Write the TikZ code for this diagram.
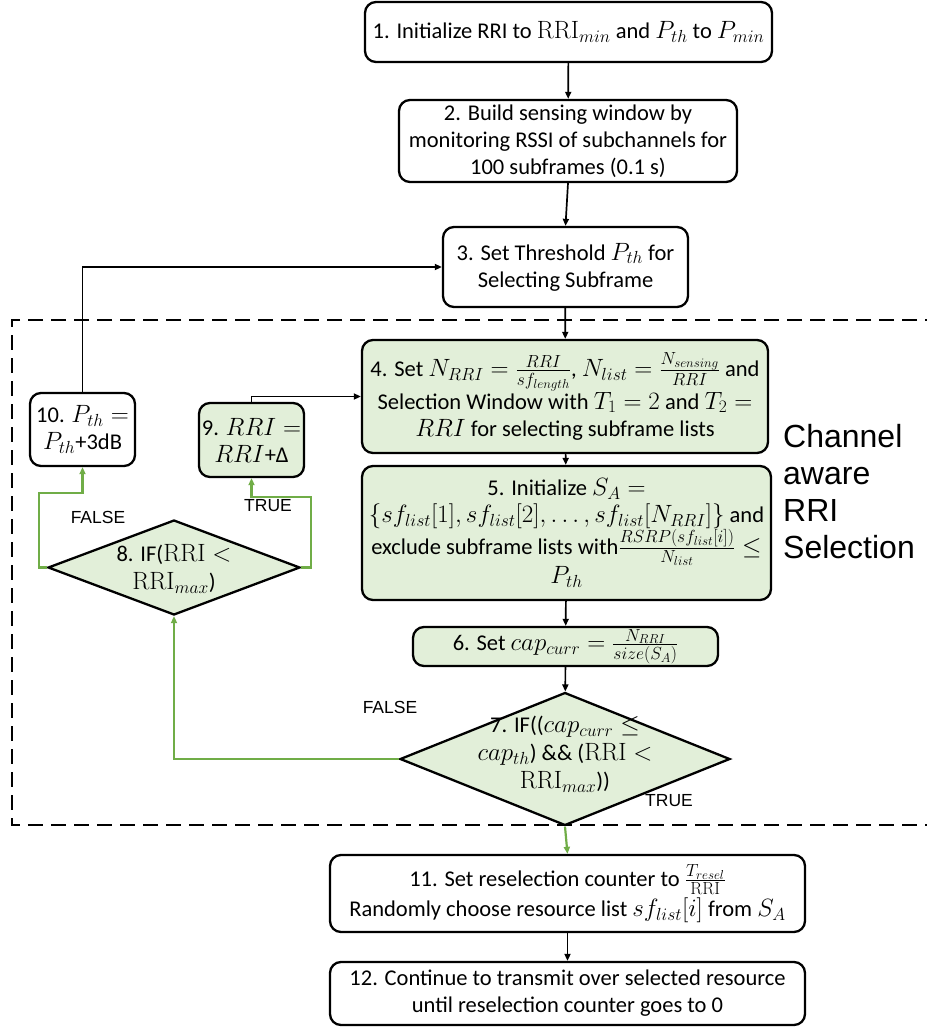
\RequirePackage{fix-cm}
\documentclass[tikz,border=0pt]{standalone}
\usepackage[no-math]{fontspec}
\setmainfont{Carlito}
\newfontfamily\labelfont{Liberation Sans}
\DeclareMathSizes{22.5}{25}{17.5}{13}
\usetikzlibrary{shapes.geometric,arrows.meta}
\definecolor{leaf}{HTML}{E2EFD9}
\definecolor{vine}{HTML}{70AD47}

\begin{document}
\begin{tikzpicture}[x=1pt,y=-1pt,
  stepbox/.style={draw, line width=2.3pt, rounded corners=11pt, align=center,
    inner sep=2pt, font=\fontsize{22.5}{27}\selectfont},
  greenbox/.style={stepbox, fill=leaf},
  testshape/.style={diamond, aspect=1, draw, line width=2.3pt, fill=leaf, inner sep=0pt},
  testtext/.style={align=center, inner sep=0pt, font=\fontsize{22.5}{28}\selectfont},
  flow/.style={line width=1.7pt, -{Triangle[length=7pt,width=6pt]}},
  yes/.style={flow, draw=vine, line width=2.2pt},
  tag/.style={font=\labelfont\fontsize{17.5}{20}\selectfont, inner sep=0pt},
  region/.style={dash pattern=on 15pt off 8pt, line width=2.8pt}
]
\useasboundingbox (0,0) rectangle (927,1029);

% dashed frame of the channel-aware loop
\draw[region] (940,320) -- (12,320) -- (12,825) -- (940,825);
\node[anchor=north west, align=left, inner sep=0pt,
  font=\labelfont\fontsize{32}{37}\selectfont] (frame) at (783,424)
  {Channel\\aware\\RRI\\Selection};

% main steps
\node[stepbox, minimum width=407pt, minimum height=60pt] (s1) at (568.5,32)
  {1. Initialize RRI to $\mathrm{RRI}_{min}$ and $P_{th}$ to $P_{min}$};
\node[stepbox, minimum width=338pt, minimum height=82pt] (s2) at (568,141)
  {2. Build sensing window by\\monitoring RSSI of subchannels for\\100 subframes (0.1 s)};
\node[stepbox, minimum width=245pt, minimum height=80pt] (s3) at (565.5,267)
  {3. Set Threshold $P_{th}$ for\\Selecting Subframe};
\node[greenbox, minimum width=406pt, minimum height=113pt] (s4) at (565,396.5)
  {4. Set $N_{RRI}=\frac{RRI}{sf_{length}}$, $N_{list}=\frac{N_{sensing}}{RRI}$ and\\
   Selection Window with $T_1=2$ and $T_2=$\\$RRI$ for selecting subframe lists};
\node[greenbox, minimum width=409pt, minimum height=134pt] (s5) at (566.5,533)
  {5. Initialize $S_A=$\\
   $\{sf_{list}[1],sf_{list}[2],\ldots,sf_{list}[N_{RRI}]\}$ and\\
   exclude subframe lists with$\frac{RSRP(sf_{list}[i])}{N_{list}}\le$\\$P_{th}$};
\node[greenbox, minimum width=305pt, minimum height=39pt] (s6) at (565.5,646.5)
  {6. Set $cap_{curr}=\frac{N_{RRI}}{size(S_A)}$};

% decision 7
\node[testshape, minimum width=330pt, minimum height=133pt] (d7) at (565,759) {};
\node[testtext] (d7t) at (565,754)
  {7. IF(($cap_{curr}\le$\\$cap_{th}$) \&\& ($\mathrm{RRI}<$\\$\mathrm{RRI}_{max}$))};

% decision 8
\node[testshape, minimum width=252pt, minimum height=95pt] (d8) at (174,567.5) {};
\node[testtext] (d8t) at (174,569)
  {8. IF($\mathrm{RRI}<$\\$\mathrm{RRI}_{max}$)};

% loop updates
\node[greenbox, minimum width=105pt, minimum height=74pt] (s9) at (251.5,440)
  {9. $RRI=$\\$RRI$+Δ};
\node[stepbox, minimum width=105pt, minimum height=73pt] (s10) at (82.5,429.5)
  {10. $P_{th}=$\\$P_{th}$+3dB};

% final steps
\node[stepbox, minimum width=475pt, minimum height=77pt] (s11) at (567.5,893.5)
  {11. Set reselection counter to $\frac{T_{resel}}{\mathrm{RRI}}$\\[2pt]
   Randomly choose resource list $sf_{list}[i]$ from $S_A$};
\node[stepbox, minimum width=475pt, minimum height=63pt] (s12) at (567.5,993.5)
  {12. Continue to transmit over selected resource\\until reselection counter goes to 0};

% branch corners
\coordinate (f8) at (39,493);
\coordinate (t8) at (311,497);

% connectors
\draw[flow] (s1) -- (s2);
\draw[flow] (s2.south) -- (s3.north);
\draw[flow] (s3) -- (s4);
\draw[flow] (s4) -- (s5);
\draw[flow] (s5) -- (s6);
\draw[flow] (s6) -- (d7);
\draw[yes] (d7.south) -- (s11.north);
\draw[yes] (d7.west) -| (d8.south);
\draw[yes] (d8.west) -| (f8) -| (s10.south);
\draw[yes] (d8.east) -| (t8) -| (s9.south);
\draw[flow] (s10.north) |- (s3.west);
\draw[flow] (s9.north) |- (s4.west);
\draw[flow] (s11) -- (s12);

% branch labels
\node[tag] (l7f) at (390,707) {FALSE};
\node[tag] (l7t) at (669,801) {TRUE};
\node[tag] (l8f) at (98,517) {FALSE};
\node[tag] (l8t) at (268,506) {TRUE};
\end{tikzpicture}
\end{document}
